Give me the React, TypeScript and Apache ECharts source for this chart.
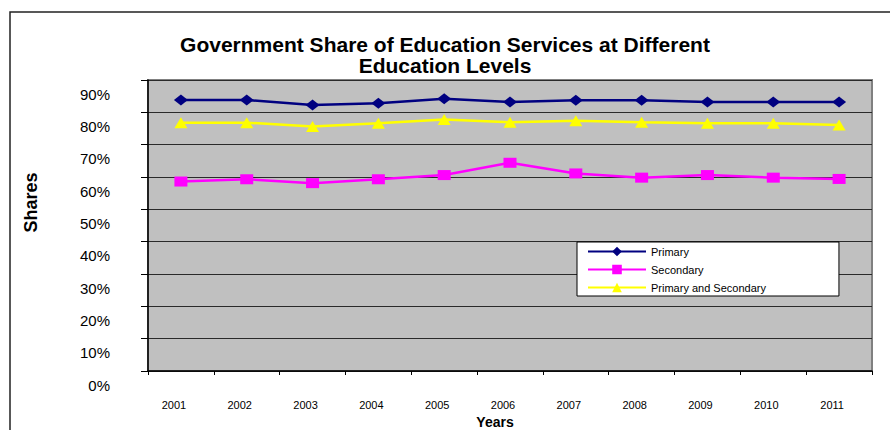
import React, { useEffect, useRef } from "react";
import * as echarts from "echarts";

const years = ["2001", "2002", "2003", "2004", "2005", "2006", "2007", "2008", "2009", "2010", "2011"];
const primary = [83.8, 83.8, 82.3, 82.8, 84.2, 83.2, 83.7, 83.7, 83.2, 83.2, 83.2];
const secondary = [58.6, 59.3, 58.1, 59.3, 60.6, 64.4, 61.1, 59.8, 60.6, 59.8, 59.4];
const primaryAndSecondary = [76.8, 76.8, 75.6, 76.6, 77.8, 76.9, 77.4, 76.9, 76.6, 76.6, 76.1];
const yTicks = [0, 10, 20, 30, 40, 50, 60, 70, 80, 90];

const FONT = "'Liberation Sans', Arial, sans-serif";

export default function App() {
  const ref = useRef<HTMLDivElement>(null);
  useEffect(() => {
    if (!ref.current) return;
    const chart = echarts.init(ref.current, null, { renderer: "svg" });
    chart.setOption({
      animation: false,
      backgroundColor: "#FFFFFF",
      textStyle: { fontFamily: FONT },
      title: {
        text: "Government Share of Education Services at Different\nEducation Levels",
        left: 440,
        top: 29,
        textAlign: "center",
        textStyle: { fontSize: 21, fontWeight: "bold", color: "#000", lineHeight: 21, fontFamily: FONT },
      },
      graphic: [
        {
          type: "rect",
          shape: { x: 10, y: 12, width: 900, height: 450 },
          style: { fill: "none", stroke: "#222", lineWidth: 1.5 },
          silent: true,
          z: -1,
        },
      ],
      legend: {
        orient: "vertical",
        left: 577,
        top: 242,
        backgroundColor: "#FFFFFF",
        borderColor: "#000",
        borderWidth: 1,
        borderRadius: 0,
        padding: [4, 73, 3, 10],
        itemWidth: 58,
        itemHeight: 12,
        itemGap: 7,
        textStyle: { fontSize: 11, color: "#000", fontFamily: FONT },
        data: ["Primary", "Secondary", "Primary and Secondary"],
      },
      grid: {
        left: 148,
        top: 80,
        right: 18,
        bottom: 59,
        outerBoundsMode: "none",
        containLabel: false,
        show: true,
        backgroundColor: "#C0C0C0",
        borderColor: "#808080",
        borderWidth: 2,
      },
      xAxis: {
        type: "category",
        data: years,
        boundaryGap: true,
        name: "Years",
        nameLocation: "middle",
        nameGap: 36,
        nameTextStyle: { fontSize: 14, fontWeight: "bold", color: "#000", padding: [0, 30, 0, 0], fontFamily: FONT },
        axisLine: { lineStyle: { color: "#000", width: 1.5 } },
        axisTick: { show: true, length: 4, lineStyle: { color: "#000" } },
        axisLabel: { fontSize: 11, color: "#000", margin: 28, padding: [0, 14, 0, 0], fontFamily: FONT },
        splitLine: { show: false },
      },
      yAxis: {
        type: "value",
        min: yTicks[0],
        max: yTicks[yTicks.length - 1],
        interval: 10,
        name: "Shares",
        nameLocation: "middle",
        nameRotate: 90,
        nameGap: 108,
        nameTextStyle: { fontSize: 18, fontWeight: "bold", color: "#000", padding: [0, 0, 0, 46], fontFamily: FONT },
        axisLine: { show: true, lineStyle: { color: "#000", width: 1.5 } },
        axisTick: { show: true, length: 7, lineStyle: { color: "#000" } },
        axisLabel: {
          fontSize: 15,
          color: "#000",
          margin: 38,
          verticalAlign: "top",
          lineHeight: 28,
          formatter: (v: number) => `${v}%`,
          fontFamily: FONT,
        },
        splitLine: { show: true, lineStyle: { color: "#2a2a2a", width: 1 } },
      },
      series: [
        {
          name: "Primary",
          type: "line",
          data: primary,
          symbol: "diamond",
          symbolSize: [14, 11],
          lineStyle: { color: "#000080", width: 2.5 },
          itemStyle: { color: "#000080" },
        },
        {
          name: "Secondary",
          type: "line",
          data: secondary,
          symbol: "rect",
          symbolSize: [13, 10],
          lineStyle: { color: "#FF00FF", width: 2.5 },
          itemStyle: { color: "#FF00FF" },
        },
        {
          name: "Primary and Secondary",
          type: "line",
          data: primaryAndSecondary,
          symbol: "triangle",
          symbolSize: [13, 11],
          lineStyle: { color: "#FFFF00", width: 2.5 },
          itemStyle: { color: "#FFFF00" },
        },
      ],
    });
    return () => chart.dispose();
  }, []);
  return (
    <div
      ref={ref}
      style={{ position: "absolute", left: 0, top: 0, width: 890, height: 430 }}
    />
  );
}
